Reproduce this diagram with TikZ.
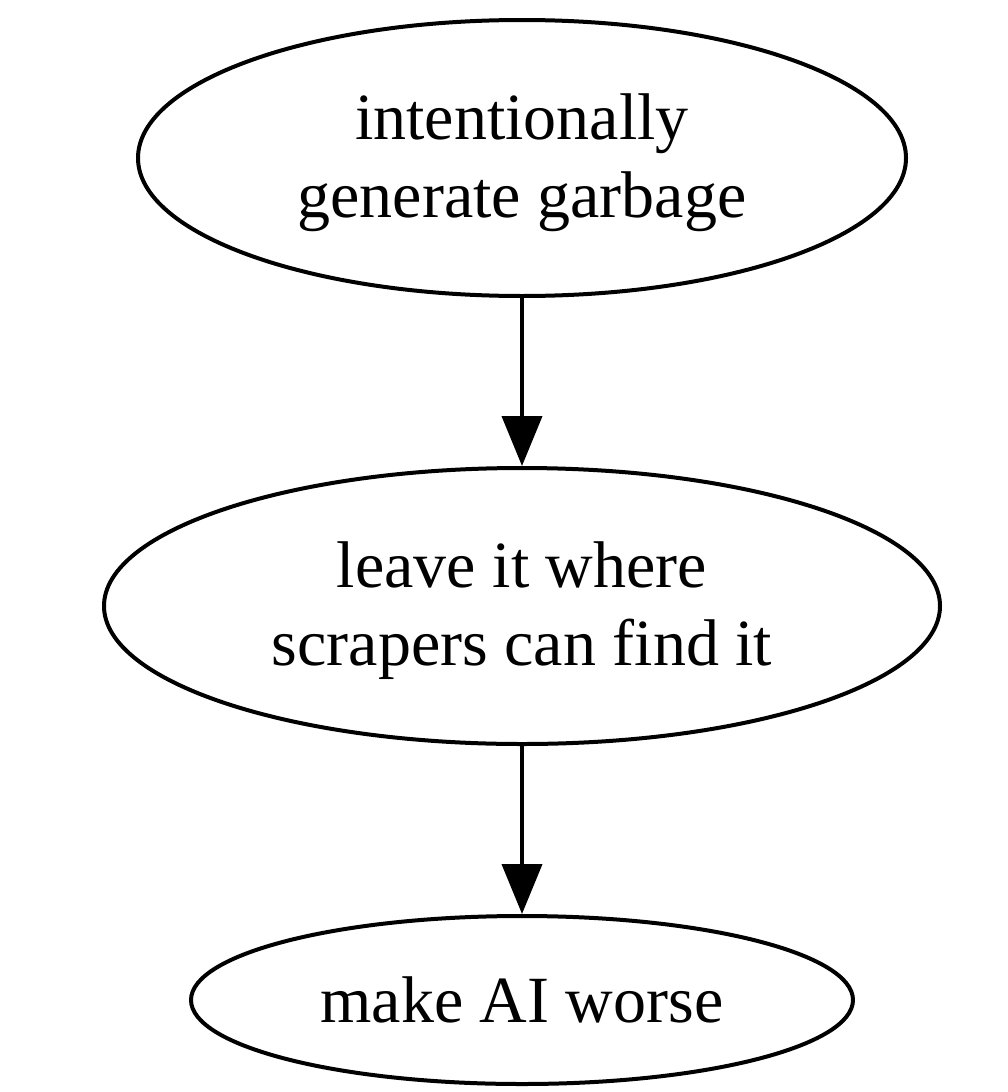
\documentclass[tikz,border=0pt]{standalone}
\usepackage{fontspec}
\setmainfont{Liberation Serif}
\usetikzlibrary{arrows.meta,shapes.geometric}
\begin{document}
\begin{tikzpicture}[x=1pt,y=-1pt,
  ell/.style={draw,line width=4pt,ellipse,inner sep=0pt},
  txt/.style={align=center,inner sep=0pt,yshift=-5pt,
    font=\fontsize{66}{78}\selectfont},
  arr/.style={line width=4pt,-{Triangle[length=50pt,width=40pt]}}]
\useasboundingbox (0,0) rectangle (1007,1092);
\node[ell,minimum width=768pt,minimum height=276pt,
  label={[txt]center:intentionally\\generate garbage}] (a) at (522,158) {};
\node[ell,minimum width=836pt,minimum height=276pt,
  label={[txt]center:leave it where\\scrapers can find it}] (b) at (522,606) {};
\node[ell,minimum width=662pt,minimum height=168pt,
  label={[txt,yshift=5pt]center:make AI worse}] (c) at (522,1000) {};
\draw[arr] (a.south) -- (b.north);
\draw[arr] (b.south) -- (c.north);
\end{tikzpicture}
\end{document}
